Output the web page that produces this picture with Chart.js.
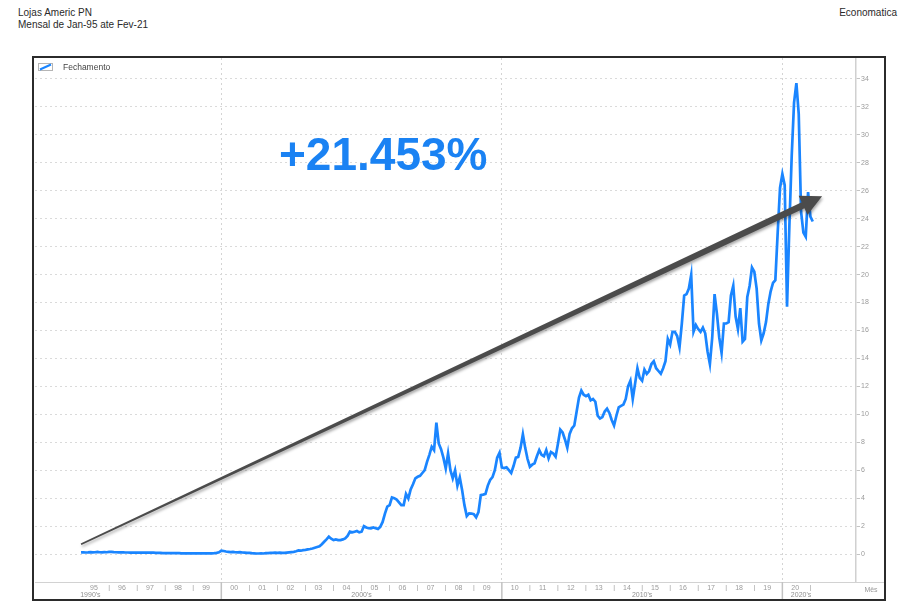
<!DOCTYPE html>
<html lang="pt-BR">
<head>
<meta charset="utf-8">
<title>Lojas Americ PN</title>
<script src="https://cdn.jsdelivr.net/npm/chart.js@4.4.0/dist/chart.umd.min.js"></script>
<style>
  html, body { margin: 0; padding: 0; background: #fff; }
  body { width: 900px; height: 614px; position: relative; overflow: hidden; font-family: "Liberation Sans", Arial, sans-serif; color: #2a2a2a; }
  .cabecalho { position: absolute; left: 18px; top: 7px; font-size: 10px; line-height: 12px; }
  .fonte { position: absolute; right: 3px; top: 7px; font-size: 10px; line-height: 12px; }
  .quadro { position: absolute; left: 32px; top: 56px; width: 850px; height: 541px; border: 2px solid #2b2b2b; }
  .quadro canvas { display: block; }
  .legenda { position: absolute; left: 38px; top: 62px; font-size: 8.5px; color: #444; display: flex; align-items: center; gap: 10px; }
  .legenda svg { display: block; }
  .ganho { position: absolute; left: 279px; top: 131px; font: bold 46px/46px "Liberation Sans", Arial, sans-serif; color: #1a82f3; }
</style>
</head>
<body>
<div class="cabecalho">Lojas Americ PN<br>Mensal de Jan-95 ate Fev-21</div>
<div class="fonte">Economatica</div>
<div class="quadro"><canvas id="grafico" width="850" height="541"></canvas></div>
<div class="legenda">
  <svg width="15" height="8"><rect x="0.5" y="0.5" width="14" height="7" fill="#fff" stroke="#b5b5b5"/><line x1="2" y1="6.5" x2="13" y2="1.5" stroke="#1a85ff" stroke-width="2"/></svg>
  <span>Fechamento</span>
</div>
<div class="ganho">+21.453%</div>

<script>
// Dados (fechamento mensal, jan/1995 a fev/2021)
const anoInicial = 1995;
const rotulosAnos = ['95', '96', '97', '98', '99', '00', '01', '02', '03', '04', '05', '06', '07',
    '08', '09', '10', '11', '12', '13', '14', '15', '16', '17', '18', '19', '20'];
const decadas = [1990, 2000, 2010, 2020];
const rotulosDecadas = ["1990's", "2000's", "2010's", "2020's"];
const ticksY = [0, 2, 4, 6, 8, 10, 12, 14, 16, 18, 20, 22, 24, 26, 28, 30, 32, 34];

const fechamento = [
    0.12, 0.13, 0.11, 0.12, 0.14, 0.12, 0.13, 0.15, 0.13, 0.12, 0.14, 0.13, // 1995
    0.15, 0.16, 0.14, 0.13, 0.12, 0.13, 0.12, 0.11, 0.11, 0.10, 0.10, 0.10, // 1996
    0.10, 0.10, 0.10, 0.10, 0.10, 0.10, 0.10, 0.10, 0.09, 0.09, 0.08, 0.07, // 1997
    0.06, 0.06, 0.06, 0.06, 0.06, 0.06, 0.06, 0.05, 0.05, 0.05, 0.05, 0.05, // 1998
    0.05, 0.05, 0.05, 0.05, 0.05, 0.05, 0.05, 0.05, 0.05, 0.06, 0.08, 0.12, // 1999
    0.25, 0.22, 0.18, 0.16, 0.14, 0.15, 0.13, 0.12, 0.14, 0.11, 0.10, 0.09, // 2000
    0.08, 0.06, 0.05, 0.04, 0.04, 0.05, 0.04, 0.06, 0.07, 0.08, 0.09, 0.10, // 2001
    0.08, 0.10, 0.09, 0.08, 0.10, 0.12, 0.14, 0.16, 0.20, 0.26, 0.24, 0.28, // 2002
    0.30, 0.33, 0.36, 0.40, 0.45, 0.50, 0.55, 0.70, 0.88, 1.05, 1.24, 1.10, // 2003
    1.00, 1.05, 1.00, 1.00, 1.05, 1.12, 1.30, 1.60, 1.55, 1.60, 1.65, 1.55, // 2004
    1.60, 2.00, 1.90, 1.85, 1.84, 1.90, 1.85, 1.80, 1.95, 2.30, 2.90, 3.40, // 2005
    3.50, 4.05, 4.00, 3.90, 3.70, 3.50, 3.50, 4.30, 3.98, 4.63, 5.00, 5.42, // 2006
    5.53, 5.60, 5.80, 6.00, 6.60, 7.10, 7.68, 7.44, 9.40, 7.92, 7.50, 6.90, // 2007
    6.13, 7.20, 6.00, 5.42, 6.00, 4.90, 5.49, 4.58, 3.50, 2.72, 2.91, 2.90, // 2008
    2.85, 2.63, 3.00, 4.22, 4.25, 4.30, 4.90, 5.30, 5.50, 6.00, 6.90, 7.25, // 2009
    6.20, 6.15, 6.20, 6.00, 5.80, 6.30, 6.90, 6.95, 7.60, 8.57, 7.60, 6.80, // 2010
    6.25, 6.40, 6.50, 7.00, 7.44, 7.10, 7.00, 7.44, 6.85, 7.30, 7.20, 6.97, // 2011
    7.90, 8.90, 8.70, 8.20, 7.60, 8.60, 9.00, 9.20, 10.20, 11.20, 11.70, 11.40, // 2012
    11.30, 11.40, 11.00, 11.10, 10.90, 9.90, 9.70, 9.80, 10.20, 10.40, 10.10, 9.60, // 2013
    9.20, 9.90, 10.50, 10.60, 10.70, 11.10, 12.00, 12.40, 11.10, 12.20, 13.30, 12.60, // 2014
    12.40, 13.20, 12.90, 13.10, 13.60, 13.80, 13.30, 13.10, 12.90, 13.30, 13.80, 15.40, // 2015
    15.00, 15.90, 15.90, 15.60, 14.80, 16.50, 18.50, 18.60, 19.00, 19.97, 15.91, 16.39, // 2016
    16.10, 15.90, 16.20, 15.80, 14.50, 13.60, 15.50, 18.60, 17.20, 15.50, 14.40, 16.50, // 2017
    16.50, 16.60, 18.50, 19.20, 17.00, 16.10, 17.60, 15.20, 15.40, 18.40, 19.20, 20.50, // 2018
    20.20, 19.00, 16.50, 15.30, 15.80, 16.60, 17.90, 18.80, 19.40, 19.60, 23.00, 26.20, // 2019
    27.20, 26.40, 17.70, 23.50, 28.50, 32.30, 33.70, 31.50, 24.50, 23.00, 22.70, 25.90, // 2020
    24.15, 23.80 // 2021
];

// Seta de tendência (mês desde jan/95, valor)
const setaInicio = { mes: 0, valor: 0.7 };
const setaFim = { mes: 317, valor: 25.6 };

// ================== AUXILIARES ==================
const ehDecada = (mes) => mes % 12 === 0 && (anoInicial + mes / 12) % 10 === 0;

function posicaoDecada(d) {
    const meio = (d + 5 - anoInicial) * 12;
    return Math.min(Math.max(meio, 4), fechamento.length - 6);
}

// ================== PLUGINS ==================
const rodape = {
    id: 'rodape',
    afterDraw(chart) {
        const { ctx, scales: { x } } = chart;
        ctx.save();
        ctx.strokeStyle = '#d2d2d2';
        ctx.lineWidth = 1;
        ctx.beginPath();
        ctx.moveTo(chart.chartArea.left, x.top + 0.5);
        ctx.lineTo(chart.width, x.top + 0.5);
        ctx.stroke();

        ctx.strokeStyle = '#c2c2c2';
        ctx.lineWidth = 1.5;
        decadas.slice(1).forEach(d => {
            const px = x.getPixelForValue((d - anoInicial) * 12);
            ctx.beginPath();
            ctx.moveTo(px, x.top);
            ctx.lineTo(px, chart.height);
            ctx.stroke();
        });

        ctx.fillStyle = '#9a9a9a';
        ctx.font = '7px "Liberation Sans", Arial, sans-serif';
        ctx.textAlign = 'center';
        ctx.textBaseline = 'middle';
        ctx.fillText('Mês', chart.width - 13, x.top + 8);
        ctx.restore();
    }
};

const seta = {
    id: 'seta',
    afterDatasetsDraw(chart) {
        const { ctx, scales: { x, y } } = chart;
        const x0 = x.getPixelForValue(setaInicio.mes), y0 = y.getPixelForValue(setaInicio.valor);
        const x1 = x.getPixelForValue(setaFim.mes), y1 = y.getPixelForValue(setaFim.valor);
        const ang = Math.atan2(y1 - y0, x1 - x0);
        const cos = Math.cos(ang), sin = Math.sin(ang);
        const nx = -sin, ny = cos;
        const cabeca = 21, meia = 10.5, w0 = 0.9, w1 = 3.3;
        const bx = x1 - cabeca * cos, by = y1 - cabeca * sin;

        ctx.save();
        ctx.shadowColor = 'rgba(0,0,0,0.35)';
        ctx.shadowBlur = 3;
        ctx.shadowOffsetX = 1;
        ctx.shadowOffsetY = 2;
        ctx.fillStyle = '#4b4b4b';
        ctx.beginPath();
        ctx.moveTo(x0 + w0 * nx, y0 + w0 * ny);
        ctx.lineTo(bx + w1 * nx, by + w1 * ny);
        ctx.lineTo(bx + meia * nx, by + meia * ny);
        ctx.lineTo(x1, y1);
        ctx.lineTo(bx - meia * nx, by - meia * ny);
        ctx.lineTo(bx - w1 * nx, by - w1 * ny);
        ctx.lineTo(x0 - w0 * nx, y0 - w0 * ny);
        ctx.closePath();
        ctx.fill();
        ctx.restore();
    }
};

// ================== GRÁFICO ==================
const fonteEixo = { family: '"Liberation Sans", Arial, sans-serif', size: 7 };

new Chart(document.getElementById('grafico'), {
    type: 'line',
    data: {
        datasets: [{
            label: 'Fechamento',
            data: fechamento.map((v, i) => ({ x: i, y: v })),
            borderColor: '#1a85ff',
            borderWidth: 2.7,
            pointRadius: 0,
            tension: 0,
            fill: false
        }]
    },
    options: {
        responsive: false,
        animation: false,
        layout: { padding: { left: 1, right: 0, top: 0, bottom: 0 } },
        plugins: { legend: { display: false }, tooltip: { enabled: false } },
        scales: {
            x: {
                type: 'linear',
                position: 'bottom',
                weight: 0,
                min: -19.7,
                max: 331.5,
                afterBuildTicks: s => {
                    const t = rotulosAnos.map((r, k) => ({ value: k * 12 + 5.5 }));
                    for (let k = 1; k <= rotulosAnos.length; k++) t.push({ value: k * 12 });
                    s.ticks = t.sort((a, b) => a.value - b.value);
                },
                afterFit: s => { s.height = 9; s.paddingLeft = 0; s.paddingRight = 0; },
                grid: {
                    drawTicks: false,
                    color: ctx => (ctx.tick && ehDecada(ctx.tick.value)) ? '#d4d4d4' : 'rgba(0,0,0,0)',
                    lineWidth: 1
                },
                border: { display: false, dash: [2, 3] },
                ticks: {
                    autoSkip: false,
                    maxRotation: 0,
                    padding: 2,
                    color: '#9a9a9a',
                    font: fonteEixo,
                    callback: v => {
                        if (v % 12 === 0) return ehDecada(v) ? '' : '|';
                        return rotulosAnos[Math.floor(v / 12)];
                    }
                }
            },
            xDecada: {
                type: 'linear',
                position: 'bottom',
                weight: 1,
                min: -19.7,
                max: 331.5,
                afterBuildTicks: s => { s.ticks = decadas.map(d => ({ value: posicaoDecada(d) })); },
                afterFit: s => { s.height = 8; s.paddingLeft = 0; s.paddingRight = 0; },
                grid: { display: false, drawTicks: false },
                border: { display: false },
                ticks: {
                    autoSkip: false,
                    maxRotation: 0,
                    padding: 0,
                    color: '#8f8f8f',
                    font: fonteEixo,
                    callback: (v, i) => rotulosDecadas[i]
                }
            },
            y: {
                type: 'linear',
                position: 'right',
                min: -2,
                max: 35.5,
                afterBuildTicks: s => { s.ticks = ticksY.map(v => ({ value: v })); },
                afterFit: s => { s.width = 28; s.paddingTop = 0; s.paddingBottom = 0; },
                grid: {
                    color: '#dadada',
                    lineWidth: 1,
                    drawTicks: true,
                    tickLength: 4,
                    tickColor: '#c4c4c4',
                    tickBorderDash: []
                },
                border: { display: true, color: '#d0d0d0', width: 1.5, dash: [2, 3] },
                ticks: { padding: 1, color: '#9a9a9a', font: fonteEixo }
            }
        }
    },
    plugins: [seta, rodape]
});
</script>
</body>
</html>
